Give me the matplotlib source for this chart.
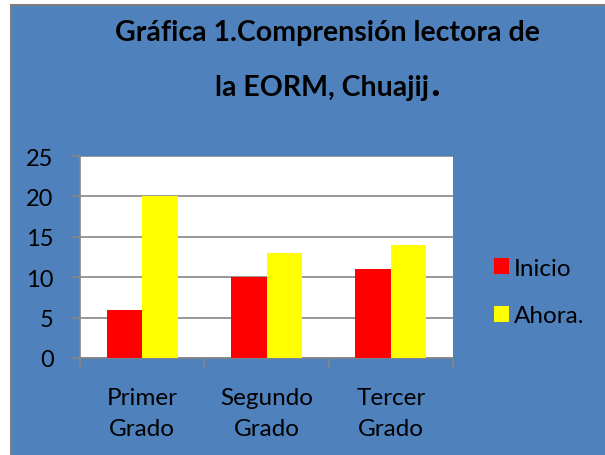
import matplotlib
matplotlib.use("Agg")
import matplotlib.pyplot as plt
from matplotlib.patches import Rectangle
import numpy as np

categories = ["Primer\nGrado", "Segundo\nGrado", "Tercer\nGrado"]
inicio = [6, 10, 11]
ahora = [20, 13, 14]
series_names = ["Inicio", "Ahora."]
yticks = [0, 5, 10, 15, 20, 25]

BLUE = "#4F81BD"
plt.rcParams['font.family'] = ['Lato', 'DejaVu Sans']

W, H = 605, 456
fig = plt.figure(figsize=(W / 100, H / 100), dpi=100)
fig.patch.set_facecolor("white")

# blue chart area with gray border on top/left
bg = Rectangle((11 / W, -0.1), 1.2, 1.1 - 6 / H, transform=fig.transFigure,
               facecolor=BLUE, edgecolor="#7F7F7F", linewidth=1.5, zorder=-5)
fig.patches.append(bg)

ax = fig.add_axes([80 / W, 1 - 359 / H, (453 - 80) / W, (359 - 157) / H])
ax.set_facecolor("white")

x = np.arange(len(categories))
bw = 0.2857
ax.bar(x - bw / 2, inicio, bw, color="#FF0000", label=series_names[0], zorder=3)
ax.bar(x + bw / 2, ahora, bw, color="#FFFF00", label=series_names[1], zorder=3)

ax.set_xlim(-0.5, len(categories) - 0.5)
ax.set_ylim(0, 25)
ax.set_yticks(yticks)
ax.set_yticklabels([str(v) for v in yticks])
ax.set_xticks(x)
ax.set_xticklabels(categories, linespacing=1.55)
ax.set_xticks(np.arange(len(categories) + 1) - 0.5, minor=True)

ax.yaxis.grid(True, color="#868686", linewidth=1.2, zorder=1)
ax.set_axisbelow(True)

for s in ["top", "right"]:
    ax.spines[s].set_visible(False)
for s in ["left", "bottom"]:
    ax.spines[s].set_color("#868686")
    ax.spines[s].set_linewidth(1.2)

ax.tick_params(axis="y", length=6, color="#868686", width=1.2, pad=13,
               labelsize=17, labelcolor="black")
ax.tick_params(axis="x", which="major", length=0, pad=21, labelsize=17.5,
               labelcolor="black")
ax.tick_params(axis="x", which="minor", length=7, color="#868686", width=1.2)

fig.text(327 / W, 1 - 33 / H, "Gráfica 1.Comprensión lectora de",
         ha="center", va="center", fontsize=20.5, fontweight="bold")
t2 = fig.text(322 / W, 1 - 96 / H, "la EORM, Chuajij",
              ha="center", va="baseline", fontsize=20.5, fontweight="bold")
fig.canvas.draw()
bb = t2.get_window_extent()
fig.text(bb.x1 / W + 1 / W, 1 - 96 / H, ".", ha="left", va="baseline",
         fontsize=30, fontweight="bold")

leg = fig.legend(loc="center left", bbox_to_anchor=(482 / W, 1 - 293 / H),
                 frameon=False, fontsize=17.5, handlelength=0.62, handleheight=0.62,
                 handletextpad=0.2, labelspacing=1.1, borderpad=0)

fig.savefig("out.png", dpi=100)
